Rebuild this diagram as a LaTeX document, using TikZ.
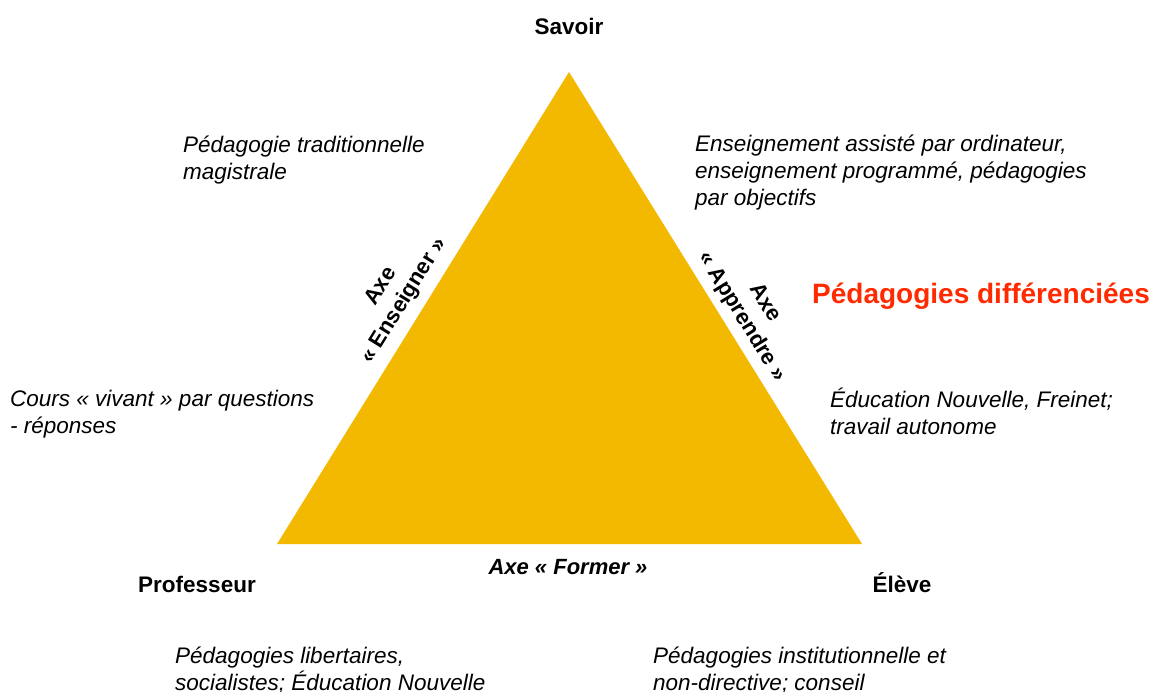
\documentclass[tikz,border=0pt]{standalone}
\usepackage{fontspec}
\setmainfont{Liberation Sans}
\definecolor{gold}{RGB}{243,185,0}
\definecolor{redt}{RGB}{255,42,0}
\begin{document}
\begin{tikzpicture}[x=1pt,y=-1pt,
  lbl/.style={font=\fontsize{22.5}{26}\selectfont\bfseries},
  note/.style={font=\fontsize{22.5}{27}\selectfont\itshape,align=left,anchor=west,inner sep=0pt},
  axe/.style={font=\fontsize{22}{27}\selectfont\bfseries,align=center,inner sep=0pt}]
\useasboundingbox (0,0) rectangle (1158,691);
\fill[white] (0,0) rectangle (1158,691);
\coordinate (S) at (569,72);
\coordinate (P) at (277,544);
\coordinate (E) at (862,544);
\fill[gold] (S) -- (P) -- (E) -- cycle;
\node[lbl] (savoir) at (569,26) {Savoir};
\node[lbl] (prof) at (197,584) {Professeur};
\node[lbl] (eleve) at (902,583) {Élève};
\node[axe,rotate=58.3] (ens) at (393,294) {Axe\\« Enseigner »};
\node[axe,rotate=-58.3] (app) at (753,310) {Axe\\« Apprendre »};
\node[axe,font=\fontsize{22}{26}\selectfont\bfseries\itshape] (form) at (568,567) {Axe « Former »};
\node[font=\fontsize{28}{32}\selectfont\bfseries,text=redt,anchor=west,inner sep=0pt] (diff) at (812,296) {Pédagogies différenciées};
\node[note] (n1) at (183,160) {Pédagogie traditionnelle\\magistrale};
\node[note] (n2) at (695,173) {Enseignement assisté par ordinateur,\\enseignement programmé, pédagogies\\par objectifs};
\node[note] (n3) at (10,414) {Cours « vivant » par questions\\- réponses};
\node[note] (n4) at (830,411) {Éducation Nouvelle, Freinet;\\travail autonome};
\node[note] (n5) at (175,670) {Pédagogies libertaires,\\socialistes; Éducation Nouvelle};
\node[note] (n6) at (653,670) {Pédagogies institutionnelle et\\non-directive; conseil};
\end{tikzpicture}
\end{document}
